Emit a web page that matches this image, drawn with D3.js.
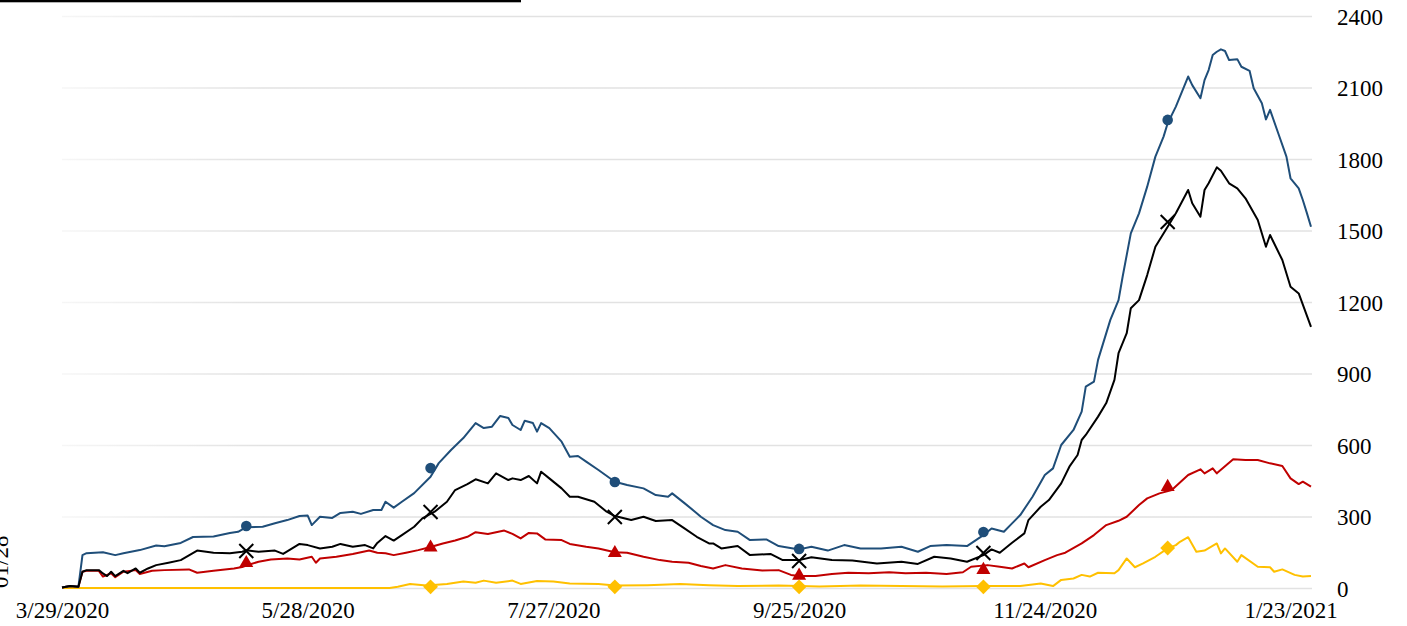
<!DOCTYPE html>
<html>
<head>
<meta charset="utf-8">
<script src="https://cdn.jsdelivr.net/npm/d3@7"></script>
<style>
  html, body { margin: 0; padding: 0; background: #fff; }
  svg { display: block; }
  svg text { font-family: "Liberation Serif", "Times New Roman", serif; font-size: 23px; fill: #000; }
</style>
</head>
<body>
<svg></svg>
<script>
// day offsets from 3/29/2020
let startDate = new Date(Date.UTC(2020, 2, 29))
let endDay = 305

let blueSeries = [[0,2],[2,8],[4,5],[5,138],[6,146],[10,150],[13,138],[15,146],[19,159],[23,178],[25,175],[29,189],[32,214],[37,216],[41,231],[43,236],[45,255],[49,257],[52,272],[55,285],[58,302],[60,304],[61,264],[63,299],[66,294],[68,315],[71,320],[73,311],[76,327],[78,327],[79,362],[81,337],[83,362],[86,398],[90,467],[92,524],[95,579],[98,629],[101,692],[103,671],[105,677],[107,722],[109,713],[110,684],[112,663],[113,702],[115,692],[116,656],[117,692],[119,671],[122,614],[124,551],[126,554],[128,530],[131,495],[135,446],[138,432],[142,418],[145,390],[148,383],[149,397],[152,356],[155,314],[156,299],[159,264],[162,243],[165,236],[168,201],[172,204],[175,176],[180,162],[183,173],[187,157],[191,180],[195,166],[200,166],[205,173],[209,152],[212,176],[216,180],[221,176],[225,222],[227,250],[230,236],[232,271],[234,306],[237,383],[240,474],[242,502],[244,600],[247,663],[249,740],[250,845],[252,866],[253,957],[256,1125],[258,1208],[259,1306],[261,1488],[263,1572],[265,1684],[267,1810],[269,1894],[270,1950],[272,2020],[274,2104],[275,2146],[276,2110],[278,2055],[279,2131],[280,2173],[281,2236],[282,2250],[283,2260],[284,2253],[285,2215],[287,2219],[288,2187],[290,2170],[291,2097],[293,2034],[294,1966],[295,2006],[297,1908],[299,1810],[300,1719],[302,1677],[303,1628],[304,1573],[305,1516]]

let blackSeries = [[0,2],[2,8],[4,5],[5,68],[6,75],[9,75],[10,61],[11,50],[12,68],[13,50],[15,72],[16,62],[18,82],[19,64],[21,82],[23,96],[26,106],[29,117],[33,157],[37,148],[41,146],[44,152],[45,158],[48,152],[52,157],[54,143],[58,185],[60,180],[63,166],[66,173],[68,185],[71,173],[74,180],[76,166],[77,189],[79,218],[81,199],[83,222],[86,257],[88,292],[91,320],[94,362],[96,411],[99,436],[101,456],[104,439],[106,481],[109,453],[110,460],[112,453],[114,470],[116,439],[117,488],[119,460],[122,418],[124,383],[126,383],[130,362],[133,320],[135,302],[139,285],[142,299],[145,281],[149,285],[152,250],[155,215],[158,187],[159,187],[161,166],[165,176],[168,138],[173,143],[176,117],[180,117],[183,129],[188,117],[193,115],[199,103],[205,110],[209,101],[213,131],[217,124],[221,110],[225,138],[227,162],[229,148],[232,190],[235,229],[236,285],[239,341],[241,369],[244,439],[246,509],[248,558],[249,621],[250,642],[253,719],[255,776],[257,873],[258,985],[260,1069],[261,1174],[263,1208],[265,1313],[267,1432],[270,1516],[272,1572],[275,1670],[276,1614],[278,1558],[279,1670],[280,1698],[282,1765],[283,1751],[285,1698],[287,1677],[289,1635],[292,1544],[294,1432],[295,1481],[298,1376],[300,1264],[302,1236],[305,1096]]

let redSeries = [[0,2],[2,8],[4,5],[5,68],[6,72],[9,72],[10,48],[12,62],[13,45],[15,68],[18,75],[19,59],[22,72],[25,75],[31,78],[33,64],[37,72],[42,82],[44,88],[46,100],[48,110],[51,120],[55,124],[58,120],[61,131],[62,106],[63,124],[67,131],[71,143],[75,157],[77,148],[79,146],[81,138],[84,148],[87,159],[90,172],[93,187],[96,199],[99,215],[101,234],[104,227],[108,241],[110,227],[112,208],[114,231],[116,229],[118,204],[122,201],[124,185],[128,173],[131,166],[135,150],[138,148],[142,131],[146,117],[149,110],[153,106],[156,92],[159,82],[162,96],[166,82],[171,73],[175,75],[178,55],[180,50],[184,50],[188,59],[192,64],[197,62],[202,66],[206,62],[211,64],[216,59],[220,66],[222,89],[226,96],[229,89],[232,82],[235,103],[236,87],[240,117],[243,138],[245,148],[249,187],[252,222],[255,264],[258,282],[260,299],[263,348],[265,376],[268,397],[271,411],[275,474],[278,498],[279,481],[281,502],[282,481],[286,540],[289,537],[292,537],[295,523],[298,512],[300,460],[302,436],[303,446],[305,425]]

let goldSeries = [[0,0],[80,0],[82,5],[85,17],[89,10],[94,17],[98,27],[101,22],[103,31],[106,22],[110,31],[112,17],[116,29],[120,27],[124,19],[131,17],[135,10],[143,12],[151,17],[158,12],[165,8],[175,10],[185,6],[195,10],[205,8],[215,6],[225,8],[234,8],[239,19],[242,8],[244,34],[247,40],[249,55],[251,48],[253,64],[257,62],[258,75],[260,124],[262,87],[264,103],[267,131],[270,166],[272,180],[273,194],[275,213],[277,152],[279,157],[282,187],[283,145],[284,166],[287,110],[288,138],[292,89],[295,87],[296,68],[298,78],[301,55],[303,48],[305,50]]

// markers every 45 days
let markerDays = [45, 90, 135, 180, 225, 270]
let blueMarks = [260, 503, 445, 164, 235, 1964]
let blackMarks = [155, 319, 298, 113, 147, 1536]
let redMarks = [105, 170, 147, 52, 76, 424]
let goldMarks = [null, 5, 5, 5, 5, 168]

let yTicks = [0, 300, 600, 900, 1200, 1500, 1800, 2100, 2400]
let xTickDays = [0, 60, 120, 180, 240, 300]
let sideLabel = '01/28'

let width = 1407
let height = 626
let plotLeft = 62
let plotRight = 1311
let plotTop = 16
let plotBottom = 588

let xScale
let yScale

let svg = d3.select('svg')

let toDate = (d) => d3.utcDay.offset(startDate, d)

let drawCanvas = () => {
    svg.attr('width', width)
       .attr('height', height)

    let grad = svg.append('defs')
                  .append('linearGradient')
                  .attr('id', 'gridFade')
                  .attr('gradientUnits', 'userSpaceOnUse')
                  .attr('x1', plotLeft - plotRight)
                  .attr('x2', plotLeft - plotRight + 200)
                  .attr('y1', 0)
                  .attr('y2', 0)
    grad.append('stop').attr('offset', 0).attr('stop-color', '#f6f6f6')
    grad.append('stop').attr('offset', 1).attr('stop-color', '#e2e2e2')

    svg.append('rect')
       .attr('x', 0)
       .attr('y', 0)
       .attr('width', 521)
       .attr('height', 2.3)
       .attr('fill', '#000')
}

let generateScales = () => {
    xScale = d3.scaleUtc()
               .domain([startDate, toDate(endDay)])
               .range([plotLeft, plotRight])

    yScale = d3.scaleLinear()
               .domain([0, 2400])
               .range([plotBottom, plotTop])
}

let generateAxis = () => {
    let yAxis = d3.axisRight(yScale)
                  .tickValues(yTicks)
                  .tickSize(-(plotRight - plotLeft + 1))
                  .tickPadding(25)
                  .tickFormat(d3.format('d'))

    let yg = svg.append('g')
                .attr('transform', 'translate(' + (plotRight + 1) + ', 0)')
                .call(yAxis)
    yg.select('.domain').remove()
    yg.selectAll('line')
      .attr('stroke', 'url(#gridFade)')
      .attr('stroke-width', 1.6)
    yg.selectAll('text')
      .attr('dy', '0.35em')
      .style('font-size', '23px')
      .style('font-family', '"Liberation Serif", serif')

    let xAxis = d3.axisBottom(xScale)
                  .tickValues(xTickDays.map(toDate))
                  .tickSize(0)
                  .tickFormat(d3.utcFormat('%-m/%-d/%Y'))

    let xg = svg.append('g')
                .attr('transform', 'translate(0, ' + plotBottom + ')')
                .call(xAxis)
    xg.select('.domain').remove()
    xg.selectAll('text')
      .attr('y', 30)
      .attr('dy', 0)
      .style('font-size', '23px')
      .style('font-family', '"Liberation Serif", serif')

    svg.append('text')
       .attr('transform', 'translate(8, ' + plotBottom + ') rotate(-90)')
       .attr('text-anchor', 'start')
       .text(sideLabel)
}

let drawLines = () => {
    let line = d3.line()
                 .x((item) => xScale(toDate(item[0])))
                 .y((item) => yScale(item[1]))

    let series = [
        { data: goldSeries, color: '#FFC000' },
        { data: redSeries, color: '#C00000' },
        { data: blueSeries, color: '#1F4E79' },
        { data: blackSeries, color: '#000000' }
    ]

    svg.selectAll('path.series')
       .data(series)
       .enter()
       .append('path')
       .attr('class', 'series')
       .attr('d', (item) => line(item.data))
       .attr('fill', 'none')
       .attr('stroke', (item) => item.color)
       .attr('stroke-width', 2)
       .attr('stroke-linejoin', 'round')
}

let drawMarkers = () => {
    let pts = (vals) => markerDays.map((d, i) => ({ day: d, value: vals[i] }))
                                  .filter((p) => p.value != null)

    svg.selectAll('circle.mk')
       .data(pts(blueMarks))
       .enter()
       .append('circle')
       .attr('class', 'mk')
       .attr('cx', (p) => xScale(toDate(p.day)))
       .attr('cy', (p) => yScale(p.value))
       .attr('r', 5.3)
       .attr('fill', '#1F4E79')

    svg.selectAll('path.tri')
       .data(pts(redMarks))
       .enter()
       .append('path')
       .attr('class', 'tri')
       .attr('d', d3.symbol().type(d3.symbolTriangle).size(85))
       .attr('transform', (p) => 'translate(' + xScale(toDate(p.day)) + ',' + yScale(p.value) + ')')
       .attr('fill', '#C00000')

    svg.selectAll('path.dia')
       .data(pts(goldMarks))
       .enter()
       .append('path')
       .attr('class', 'dia')
       .attr('d', d3.symbol().type(d3.symbolSquare).size(110))
       .attr('transform', (p) => 'translate(' + xScale(toDate(p.day)) + ',' + yScale(p.value) + ') rotate(45)')
       .attr('fill', '#FFC000')

    svg.selectAll('path.cross')
       .data(pts(blackMarks))
       .enter()
       .append('path')
       .attr('class', 'cross')
       .attr('d', 'M-7,-7L7,7M-7,7L7,-7')
       .attr('transform', (p) => 'translate(' + xScale(toDate(p.day)) + ',' + yScale(p.value) + ')')
       .attr('stroke', '#000')
       .attr('stroke-width', 2)
       .attr('fill', 'none')
}

drawCanvas()
generateScales()
generateAxis()
drawLines()
drawMarkers()
</script>
</body>
</html>
